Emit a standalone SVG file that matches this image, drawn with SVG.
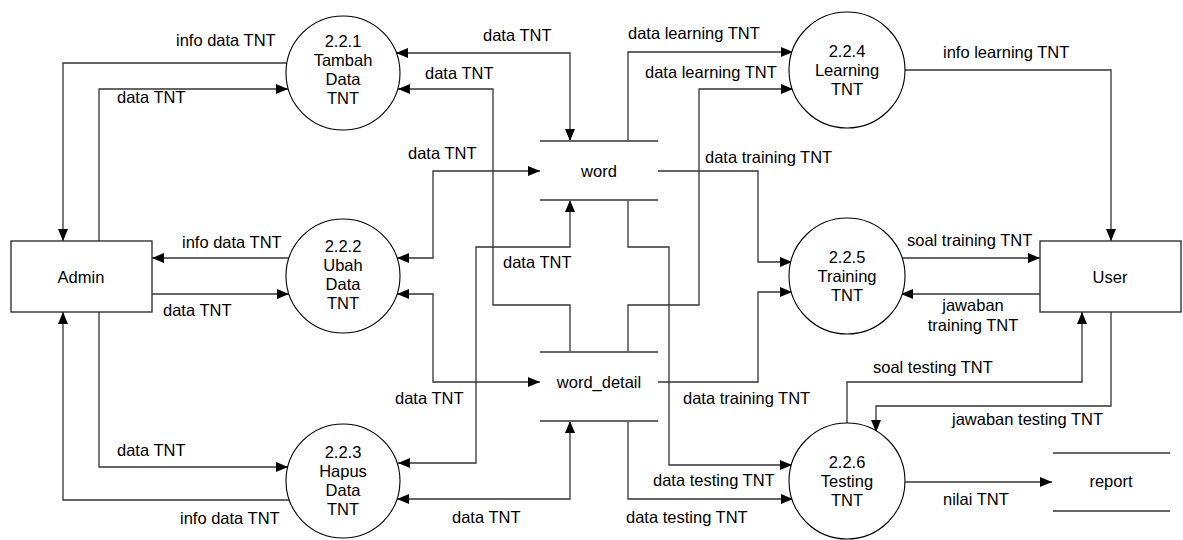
<svg xmlns="http://www.w3.org/2000/svg" width="1183" height="540" viewBox="0 0 1183 540">
<style>
text{font-family:"Liberation Sans",Arial,sans-serif;font-size:16.5px;fill:#000}
.c{text-anchor:middle}
.proc{fill:#fff;stroke:#000;stroke-width:1.1}
.ent{fill:#fff;stroke:#222;stroke-width:1.3}
.store{stroke:#666;stroke-width:2}
.conn path{fill:none;stroke:#333;stroke-width:1.3}
.a{marker-end:url(#ah)}
.b{marker-end:url(#ah);marker-start:url(#as)}
</style>
<defs>
<marker id="ah" markerUnits="userSpaceOnUse" markerWidth="14" markerHeight="12" refX="12" refY="5" orient="auto"><path d="M0,0 L12,5 L0,10 Z" fill="#000"/></marker>
<marker id="as" markerUnits="userSpaceOnUse" markerWidth="14" markerHeight="12" refX="0" refY="5" orient="auto"><path d="M12,0 L0,5 L12,10 Z" fill="#000"/></marker>
</defs>
<rect width="1183" height="540" fill="#fff"/>
<g class="conn">
<path class="a" d="M287 63 H63 V241"/>
<path class="a" d="M99 241 V89 H288"/>
<path class="b" d="M396 53 H570 V141"/>
<path class="a" d="M570 352 V305 H493 V89 H398"/>
<path class="a" d="M289 258 H152"/>
<path class="a" d="M152 294 H289"/>
<path class="b" d="M397 258 H433 V171 H540"/>
<path class="b" d="M397 294 H433 V382 H540"/>
<path class="a" d="M99 312 V467 H288"/>
<path class="a" d="M289 500 H63 V312"/>
<path class="b" d="M398 463 H476 V247 H570 V200"/>
<path class="b" d="M397 499 H570 V421"/>
<path class="a" d="M628 141 V52 H793"/>
<path class="a" d="M628 352 V305 H699 V89 H793"/>
<path class="a" d="M658 171 H758 V262 H792"/>
<path class="a" d="M658 382 H758 V292 H792"/>
<path class="a" d="M628 200 V247 H669 V465 H792"/>
<path class="a" d="M628 421 V499 H793"/>
<path class="a" d="M904 70 H1111 V241"/>
<path class="a" d="M901 258 H1040"/>
<path class="a" d="M1040 294 H901"/>
<path class="a" d="M847 424 V382 H1082 V312"/>
<path class="a" d="M1111 312 V406 H876 V432"/>
<path class="a" d="M904 482 H1052"/>
</g>
<g id="labels">
<text x="176" y="46">info data TNT</text>
<text x="117" y="103">data TNT</text>
<text x="182" y="248">info data TNT</text>
<text x="163" y="316">data TNT</text>
<text x="117" y="456">data TNT</text>
<text x="180" y="524">info data TNT</text>
<text x="483" y="41">data TNT</text>
<text x="425" y="79">data TNT</text>
<text x="408" y="159">data TNT</text>
<text x="503" y="268">data TNT</text>
<text x="395" y="404">data TNT</text>
<text x="452" y="523">data TNT</text>
<text x="628" y="39">data learning TNT</text>
<text x="645" y="78">data learning TNT</text>
<text x="705" y="163">data training TNT</text>
<text x="683" y="404">data training TNT</text>
<text x="653" y="486">data testing TNT</text>
<text x="626" y="523">data testing TNT</text>
<text x="943" y="58">info learning TNT</text>
<text x="907" y="246">soal training TNT</text>
<text class="c" x="973" y="311">jawaban</text>
<text class="c" x="973" y="331">training TNT</text>
<text x="873" y="373">soal testing TNT</text>
<text x="952" y="425">jawaban testing TNT</text>
<text x="943" y="505">nilai TNT</text>
</g>
<g id="admin"><rect class="ent" x="11" y="241" width="141" height="71"/><text class="c" x="81" y="283">Admin</text></g>
<g id="user"><rect class="ent" x="1040" y="241" width="141" height="71"/><text class="c" x="1110" y="283">User</text></g>
<g id="p221"><circle class="proc" cx="343" cy="73" r="57"/><text class="c" x="343" y="47">2.2.1</text><text class="c" x="343" y="66">Tambah</text><text class="c" x="343" y="85">Data</text><text class="c" x="343" y="104">TNT</text></g>
<g id="p222"><circle class="proc" cx="343" cy="276" r="57"/><text class="c" x="343" y="252">2.2.2</text><text class="c" x="343" y="271">Ubah</text><text class="c" x="343" y="290">Data</text><text class="c" x="343" y="309">TNT</text></g>
<g id="p223"><circle class="proc" cx="343" cy="481" r="57"/><text class="c" x="343" y="458">2.2.3</text><text class="c" x="343" y="477">Hapus</text><text class="c" x="343" y="496">Data</text><text class="c" x="343" y="515">TNT</text></g>
<g id="p224"><circle class="proc" cx="847" cy="70" r="58"/><text class="c" x="847" y="57">2.2.4</text><text class="c" x="847" y="76">Learning</text><text class="c" x="847" y="95">TNT</text></g>
<g id="p225"><circle class="proc" cx="847" cy="276" r="58"/><text class="c" x="847" y="263">2.2.5</text><text class="c" x="847" y="282">Training</text><text class="c" x="847" y="301">TNT</text></g>
<g id="p226"><circle class="proc" cx="847" cy="481" r="58"/><text class="c" x="847" y="468">2.2.6</text><text class="c" x="847" y="487">Testing</text><text class="c" x="847" y="506">TNT</text></g>
<g id="word"><line class="store" x1="540" y1="141" x2="658" y2="141"/><line class="store" x1="540" y1="200" x2="658" y2="200"/><text class="c" x="599" y="177">word</text></g>
<g id="word_detail"><line class="store" x1="540" y1="352" x2="658" y2="352"/><line class="store" x1="540" y1="421" x2="658" y2="421"/><text class="c" x="599" y="388">word_detail</text></g>
<g id="report"><line class="store" x1="1053" y1="453" x2="1170" y2="453"/><line class="store" x1="1053" y1="511" x2="1170" y2="511"/><text class="c" x="1111" y="487">report</text></g>
</svg>
